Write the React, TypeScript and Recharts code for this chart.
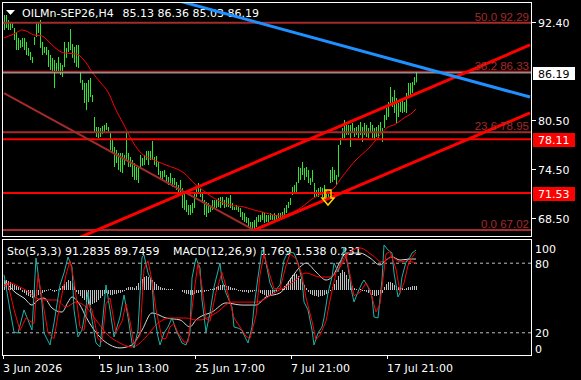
import React from 'react';
import { ComposedChart, Bar, Line, XAxis, YAxis, ReferenceLine, ReferenceDot } from 'recharts';

const W = 581;
const H = 380;
const SLOTS = 264;
const FONT = '"DejaVu Sans", sans-serif';
const FIB_FONT = '"Liberation Sans", Arial, sans-serif';
const GREEN = '#2ee62e';
const FIB_COLOR = '#a52a2a';
const RED = '#ff0000';
const SILVER = '#c0c0c0';

// ---- price bars (H4), high / low ----
const barHigh = [
  93.25, 93.25, 92.64, 92.4, 92.4, 91.67, 91.18, 90.45, 90.2, 90.45,
  90.45, 89.96, 89.23, 88.74, 88.13, 90.57, 92.28, 92.4, 92.64, 89.96,
  89.35, 89.35, 88.98, 88.37, 88.01, 87.76, 87.4, 88.13, 87.4, 87.15,
  89.96, 89.23, 89.96, 91.54, 89.71, 89.35, 89.59, 89.59, 86.3, 85.32,
  84.96, 84.96, 85.32, 85.57, 83.49, 80.81, 79.59, 79.59, 79.47, 79.71,
  79.84, 80.08, 79.59, 78.86, 78.01, 77.15, 76.79, 76.42, 76.42, 76.42,
  76.18, 78.98, 76.42, 75.93, 75.57, 75.2, 74.72, 74.72, 76.18, 75.81,
  76.18, 76.67, 76.67, 76.67, 77.89, 75.93, 76.06, 75.32, 74.23, 74.23,
  74.35, 73.74, 73.5, 73.98, 73.37, 73.37, 72.89, 72.52, 73.13, 72.15,
  71.54, 70.69, 70.08, 70.08, 70.32, 71.54, 72.28, 72.76, 72.15, 71.54,
  70.69, 70.45, 70.32, 69.84, 70.69, 70.69, 70.69, 70.93, 71.06, 71.06,
  70.69, 71.06, 70.93, 71.3, 70.32, 69.84, 70.08, 69.84, 69.71, 69.23,
  69.1, 68.62, 68.49, 68.01, 68.01, 68.25, 68.62, 68.86, 68.86, 69.23,
  69.1, 68.86, 68.86, 69.1, 68.86, 69.1, 68.86, 69.1, 69.1, 69.23,
  69.71, 70.08, 70.45, 70.93, 72.28, 72.52, 72.89, 74.72, 74.59, 75.32,
  74.59, 74.72, 74.35, 73.37, 74.35, 72.76, 71.91, 72.15, 72.28, 72.15,
  72.52, 71.91, 71.67, 74.35, 74.72, 74.35, 73.74, 77.4, 78.25, 79.47,
  80.45, 80.2, 79.84, 79.84, 80.08, 79.47, 79.59, 79.84, 80.2, 79.59,
  80.08, 79.84, 79.47, 80.2, 79.84, 79.47, 79.59, 79.84, 80.2, 79.47,
  81.06, 81.91, 82.64, 84.47, 83.25, 84.1, 83.13, 82.52, 82.88, 83.13,
  82.64, 83.74, 84.96, 84.96, 85.08, 85.69, 86.36,
];
const barLow = [
  91.42, 91.67, 91.42, 91.42, 91.67, 90.2, 88.98, 88.98, 89.23, 89.35,
  88.98, 88.37, 88.25, 87.76, 87.4, 89.59, 90.57, 91.06, 89.23, 88.37,
  88.62, 88.37, 86.91, 86.54, 86.3, 84.35, 86.3, 86.3, 85.93, 85.69,
  86.91, 88.01, 88.74, 88.98, 88.01, 87.4, 86.91, 86.79, 84.96, 84.1,
  82.52, 81.66, 82.64, 83.25, 82.64, 78.98, 78.37, 78.25, 78.37, 78.74,
  78.98, 79.23, 78.86, 76.79, 76.42, 74.72, 75.2, 74.35, 74.11, 73.98,
  74.96, 75.57, 74.72, 74.72, 73.5, 73.13, 73.13, 72.76, 74.72, 74.84,
  74.96, 75.57, 74.96, 75.57, 75.57, 74.96, 74.72, 73.74, 73.37, 73.13,
  73.5, 72.76, 72.52, 72.76, 72.28, 72.52, 71.91, 71.54, 71.67, 69.71,
  69.47, 69.23, 68.86, 68.86, 69.1, 69.71, 71.06, 71.67, 71.06, 70.32,
  68.86, 68.62, 69.1, 69.23, 69.47, 69.71, 69.71, 69.84, 69.71, 70.08,
  69.71, 69.84, 69.84, 69.71, 69.47, 69.47, 69.47, 69.23, 68.62, 68.25,
  68.01, 67.89, 67.4, 67.28, 67.1, 67.02, 67.4, 68.01, 68.01, 68.25,
  67.89, 68.01, 68.01, 68.25, 68.25, 68.25, 68.25, 68.49, 68.49, 68.62,
  68.86, 69.1, 69.71, 70.08, 71.3, 71.54, 71.67, 72.76, 73.13, 73.74,
  73.13, 73.5, 72.76, 72.52, 72.89, 71.06, 71.06, 71.06, 71.3, 71.06,
  71.06, 70.93, 70.93, 72.76, 72.89, 73.13, 72.52, 73.5, 77.4, 78.01,
  78.25, 78.62, 78.62, 77.15, 78.86, 78.37, 78.62, 78.25, 78.62, 77.76,
  78.62, 78.37, 78.25, 78.86, 78.25, 78.01, 78.37, 78.25, 78.86, 77.76,
  79.47, 80.45, 80.81, 82.52, 82.03, 81.3, 80.08, 80.81, 81.42, 81.3,
  81.42, 81.3, 83.25, 83.49, 83.74, 84.71, 85.03,
];

// ---- moving average (read at turning points) ----
const maIdx = [0, 6, 9, 11, 15, 19, 23, 27, 30, 36, 40, 44, 48, 52, 56, 60, 63, 68, 75, 81, 90, 96, 98, 104, 113, 120, 125, 131, 138, 142, 149, 154, 160, 165, 169, 176, 183, 188, 192, 195, 200, 204, 206];
const maVal = [90.45, 91.06, 91.42, 91.3, 90.81, 90.69, 89.84, 88.98, 88.62, 88.5, 87.76, 86.3, 85.08, 83.86, 81.66, 79.84, 78.37, 76.55, 75.57, 74.96, 73.98, 72.52, 72.15, 71.06, 70.08, 69.84, 69.47, 69.1, 68.74, 68.98, 69.84, 70.81, 71.54, 72.15, 73.5, 75.57, 77.15, 78.62, 79.59, 79.84, 80.69, 81.3, 81.79];

// ---- Stochastic %K / %D ----
const kIdx = [0, 3, 5, 7, 10, 12, 14, 16, 19, 20, 23, 25, 28, 30, 32, 34, 35, 37, 39, 41, 42, 44, 46, 48, 49, 51, 53, 55, 58, 60, 62, 64, 65, 67, 69, 70, 72, 74, 75, 77, 78, 80, 82, 84, 86, 89, 91, 93, 94, 96, 98, 99, 101, 103, 105, 108, 109, 111, 114, 115, 117, 119, 120, 122, 124, 125, 127, 129, 130, 133, 135, 138, 140, 142, 145, 147, 149, 150, 152, 154, 155, 157, 159, 160, 162, 164, 165, 167, 169, 170, 172, 174, 175, 177, 179, 180, 182, 184, 185, 187, 189, 190, 192, 194, 195, 197, 198, 199, 201, 203, 204, 206];
const kVal = [70, 39.7, 20.7, 19.8, 39.7, 31, 22.4, 84.5, 45.7, 19.8, 9.5, 28.4, 61.2, 71.6, 85.3, 76.7, 39.7, 16.4, 22.4, 42.2, 55.2, 31, 11.2, 7.8, 25, 61.2, 39.7, 16.4, 33.6, 52.6, 33.6, 11.2, 6.9, 22.4, 85.3, 87.1, 71.6, 63.8, 37.1, 16.4, 9.5, 19.8, 25, 32.8, 22.4, 11.2, 9.5, 19.8, 67.2, 84.5, 75.9, 48.3, 20.7, 37.1, 59.5, 80.2, 65.5, 54.3, 42.2, 25, 24.1, 22.4, 18.1, 11.2, 25, 42.2, 68.1, 91.4, 88.8, 62.9, 55.2, 61.2, 82.8, 89.7, 88.8, 80.2, 65.5, 46.6, 39.7, 22.4, 9.5, 19.8, 25, 32.8, 54.3, 68.1, 80.2, 72.4, 84.5, 94, 76.7, 54.3, 46.6, 55.2, 62.9, 65.5, 59.5, 50.9, 33.6, 32.8, 65.5, 95.7, 91.4, 88.8, 71.6, 50.9, 54.3, 68.1, 81, 85.3, 88.8, 91.28];
const dIdx = [0, 2, 5, 8, 11, 13, 15, 17, 20, 22, 25, 28, 31, 33, 35, 38, 40, 42, 44, 47, 49, 51, 53, 56, 59, 61, 63, 65, 68, 70, 72, 74, 76, 79, 81, 83, 85, 87, 90, 92, 95, 97, 99, 101, 103, 106, 109, 111, 115, 118, 121, 123, 126, 128, 130, 132, 135, 138, 141, 143, 146, 149, 151, 154, 156, 158, 161, 163, 166, 168, 171, 173, 175, 178, 181, 183, 186, 188, 191, 193, 196, 198, 200, 202, 204, 206];
const dVal = [60, 62, 40, 22, 33, 30, 28, 70, 40, 20, 15, 45, 70, 82, 65, 25, 22, 45, 40, 15, 12, 45, 50, 20, 30, 45, 30, 10, 18, 75, 82, 65, 40, 15, 15, 25, 28, 20, 12, 12, 55, 80, 60, 32, 30, 55, 72, 60, 33, 25, 17, 15, 35, 70, 88, 75, 58, 58, 78, 88, 84, 70, 50, 30, 14, 18, 30, 48, 72, 78, 88, 70, 52, 55, 63, 57, 38, 45, 88, 90, 75, 55, 63, 78, 85, 89.75];

// ---- MACD lines and histogram ----
const macdIdx = [0, 2, 6, 10, 14, 17, 20, 24, 29, 32, 34, 38, 41, 44, 48, 53, 58, 64, 69, 74, 81, 88, 93, 96, 98, 104, 111, 119, 126, 131, 138, 144, 148, 151, 156, 161, 164, 168, 171, 178, 183, 188, 191, 194, 198, 203, 206];
const macdVal = [0.57, 0.29, -0.17, -0.46, -0.86, -0.57, -0.46, -1.03, -1.26, -0.69, -0.4, -0.86, -1.54, -2.11, -2.69, -3.14, -3.31, -3.14, -2.29, -1.31, -1.6, -1.71, -2.11, -1.71, -1.54, -1.26, -0.74, -0.86, -0.86, -0.4, -0.17, 0.74, 1.31, 1.54, 1.03, 0.57, 0.74, 1.6, 2.11, 2.11, 1.83, 1.43, 1.71, 1.89, 1.71, 1.77, 1.769];
const sigIdx = [0, 3, 8, 13, 16, 21, 26, 31, 36, 41, 46, 51, 58, 64, 71, 76, 83, 91, 96, 98, 106, 114, 126, 136, 144, 151, 158, 163, 168, 173, 178, 184, 189, 194, 198, 201, 206];
const sigVal = [0.29, 0.4, 0.17, -0.17, -0.46, -0.57, -0.57, -0.97, -0.69, -0.97, -1.71, -2.46, -3.03, -3.26, -2.69, -2.0, -1.6, -1.6, -1.71, -1.71, -1.31, -0.69, -0.69, -0.11, 0.4, 0.97, 0.74, 0.74, 1.31, 2.17, 2.4, 2.0, 1.6, 1.89, 1.6, 1.66, 1.538];
const macdHist = [
  0.51, 0.57, 0.51, 0.46, 0.34, 0.29, 0.23, 0.17, 0.11,
  -0.11, -0.17, -0.29, -0.34, -0.4, -0.46, -0.4, -0.34, -0.29, -0.23, -0.17,
  -0.11, -0.06, 0.03, 0.06, -0.06, -0.11, -0.06, 0.03, 0.11,
  0.23, 0.34, 0.46, 0.57, 0.51, 0.4, 0.23,
  -0.11, -0.23, -0.34, -0.46, -0.57, -0.69, -0.8, -0.86, -0.8, -0.74, -0.69, -0.57, -0.46, -0.34, -0.23,
  -0.17, -0.23, -0.29, -0.29, -0.23, -0.23, -0.17, -0.17, -0.11, -0.06,
  0.11, 0.17, 0.17, 0.17, 0.11,
  0.23, 0.4, 0.51, 0.63, 0.74, 0.8, 0.74, 0.69, 0.57, 0.46, 0.34, 0.23,
  0.17, 0.11, 0.11, 0.06, 0.06, 0.06, 0.06,
  0, 0, 0, 0,
  -0.11, -0.17, -0.23, -0.23, -0.29, -0.29, -0.23, -0.17, -0.17, -0.11,
  -0.11, -0.11, -0.06, -0.06, 0.06, 0.06,
  0.11, 0.17, 0.23, 0.29, 0.29, 0.29, 0.23, 0.23, 0.17, 0.11, 0.11, 0.06,
  -0.06, -0.06, -0.11, -0.11, -0.11, -0.17, -0.11, -0.11, -0.06, -0.06,
  -0.11, -0.17, -0.23, -0.29, -0.34, -0.29, -0.29, -0.23, -0.17, -0.11, -0.06, 0.06, 0.11, 0.23,
  0.34, 0.51, 0.69, 0.86, 0.97, 0.91, 0.8, 0.63, 0.46, 0.29, 0.11,
  -0.11, -0.23, -0.29, -0.34, -0.34, -0.4, -0.34, -0.34, -0.29, -0.23, -0.17, -0.06,
  0.17, 0.34, 0.57, 0.8, 0.97, 1.14, 1.03, 0.86, 0.63, 0.4, 0.23,
  0.11, 0.06, -0.06, 0.06, -0.06, -0.06, -0.11,
  -0.17, -0.23, -0.29, -0.34, -0.34, -0.29, -0.23, -0.17,
  0.17, 0.34, 0.46, 0.46, 0.4, 0.29, 0.23, 0.17,
  0.11, 0.11, 0.06, 0.11, 0.17, 0.17, 0.23, 0.23, 0.231,
];

// ---- axis ticks / labels ----
const timeTickIdx = [0, 48, 96, 144, 192];
const timeTickLabels = ['3 Jun 2026', '15 Jun 13:00', '25 Jun 17:00', '7 Jul 21:00', '17 Jul 21:00'];
const priceTicks = [68.5, 74.5, 80.5, 92.4];
const bidPrice = 86.19;
const alertPrices = [78.11, 71.53];
const fibLevels = [50.0, 38.2, 23.6, 0.0];
const fibPrices = [92.29, 86.33, 78.95, 67.02];
const stoTicks = [0, 20, 80, 100];
const stoLevels = [80, 20];
const headerSymbol = 'OILMn-SEP26,H4';
const headerOHLC = ['85.13', '86.36', '85.03', '86.19'];
const stoHeader = 'Sto(5,3,3) 91.2835 89.7459';
const macdHeader = 'MACD(12,26,9) 1.769 1.538 0.231';

// ---- drawn objects: trend lines (bar index, price) ----
const trendFrom = [[0, 83.73], [0, 62.18], [125, 67.02], [0, 100.81]];
const trendTo = [[125, 67.02], [263, 89.59], [263, 81.3], [263, 83.24]];
const trendColor = [FIB_COLOR, RED, RED, '#1e90ff'];
const trendWidth = [2, 3, 3, 3];
const arrowAt = [162, 70.93];

function buildRows() {
  const rows: any[] = [];
  for (let i = 0; i < SLOTS; i++) {
    rows.push({
      i,
      hl: i < barHigh.length ? [barLow[i], barHigh[i]] : null,
      hist: i < macdHist.length ? macdHist[i] : null,
      ma: null, k: null, d: null, macd: null, sig: null,
    });
  }
  const put = (key: string, idx: number[], vals: number[]) =>
    idx.forEach((ix, j) => { rows[ix][key] = vals[j]; });
  put('ma', maIdx, maVal);
  put('k', kIdx, kVal);
  put('d', dIdx, dVal);
  put('macd', macdIdx, macdVal);
  put('sig', sigIdx, sigVal);
  return rows;
}
const rows = buildRows();

const VBar = (fill: string) => (p: any) => {
  const { x, y, width, height } = p;
  if (x == null || y == null || !height) return null;
  const px = Math.round(x + width / 2 - 0.5);
  const top = Math.min(y, y + height);
  const h = Math.max(Math.abs(height), 1);
  return <rect x={px} y={top} width={1} height={h} fill={fill} />;
};
const PriceBarShape = VBar(GREEN);
const HistShape = VBar(SILVER);

const PriceTick = (p: any) => {
  const { x, y, payload } = p;
  const v = payload.value;
  const yy = Math.round(y);
  if (Math.abs(v - bidPrice) < 1e-6) {
    return (
      <g>
        <rect x={x + 2} y={yy - 6} width={42} height={13} fill="#ffffff" />
        <text x={x + 7} y={yy + 4.5} fill="#000000" fontSize={11} fontFamily={FONT}>{v.toFixed(2)}</text>
      </g>
    );
  }
  if (alertPrices.some((a) => Math.abs(a - v) < 1e-6)) {
    return (
      <g>
        <rect x={x + 2} y={yy - 6} width={42} height={14} fill={RED} />
        <text x={x + 7} y={yy + 5} fill="#ffffff" fontSize={11} fontFamily={FONT}>{v.toFixed(2)}</text>
      </g>
    );
  }
  return (
    <g>
      <line x1={x + 1} x2={x + 5} y1={yy + 0.5} y2={yy + 0.5} stroke="#ffffff" strokeWidth={1} />
      <text x={x + 7} y={yy + 4.5} fill="#ffffff" fontSize={11} fontFamily={FONT}>{v.toFixed(2)}</text>
    </g>
  );
};

const StoTick = (p: any) => {
  const { x, y, payload } = p;
  const v = payload.value;
  const shift = v === 100 ? 8 : v === 0 ? -8 : 0;
  return (
    <text x={x + 4} y={y + shift + 4.5} fill="#ffffff" fontSize={11} fontFamily={FONT}>{String(v)}</text>
  );
};

const TimeTick = (p: any) => {
  const { x, y, payload } = p;
  const j = timeTickIdx.indexOf(payload.value);
  const lx = Math.round(x) - 0.5;
  return (
    <g>
      <line x1={lx} x2={lx} y1={y} y2={y + 3} stroke="#ffffff" strokeWidth={1} />
      <text x={x - 1} y={y + 15.5} fill="#ffffff" fontSize={11} fontFamily={FONT}>{j >= 0 ? timeTickLabels[j] : ''}</text>
    </g>
  );
};

const ArrowShape = (p: any) => {
  const { cx, cy } = p;
  if (cx == null || cy == null) return null;
  const x = Math.round(cx);
  const y = Math.round(cy);
  return (
    <path
      d={`M${x - 3},${y - 8} L${x + 3},${y - 8} L${x + 3},${y} L${x + 6},${y} L${x},${y + 7} L${x - 6},${y} L${x - 3},${y} Z`}
      fill="none"
      stroke="#ffd700"
      strokeWidth={1.5}
    />
  );
};

export default function App() {
  return (
    <div style={{ position: 'fixed', left: 0, top: 0, width: W, height: H, background: '#000', overflow: 'hidden' }}>
      <svg width={W} height={H} style={{ position: 'absolute', left: 0, top: 0 }}>
        <rect x={2.5} y={2.5} width={529} height={234} fill="none" stroke="#ffffff" strokeWidth={1} />
        <rect x={2.5} y={239.5} width={529} height={116} fill="none" stroke="#ffffff" strokeWidth={1} />
        <polygon points="6,10 15,10 10.5,15" fill="#ffffff" />
        <text x={22} y={16.5} fill="#ffffff" fontSize={11} fontFamily={FONT}>{headerSymbol}</text>
        <text x={122.5} y={16.5} fill="#ffffff" fontSize={11} fontFamily={FONT}>{headerOHLC.join(' ')}</text>
        <text x={7} y={254.5} fill="#ffffff" fontSize={11} fontFamily={FONT}>{stoHeader}</text>
        <text x={173} y={254.5} fill="#ffffff" fontSize={11} fontFamily={FONT}>{macdHeader}</text>
      </svg>

      <div style={{ position: 'absolute', left: 0, top: 0 }}>
        <ComposedChart width={W} height={237} data={rows} margin={{ top: 3, right: 0, bottom: 1, left: 3 }} barCategoryGap={0} barGap={0}>
          <XAxis dataKey="i" type="category" hide />
          <YAxis
            orientation="right"
            width={50}
            domain={[66.3, 94.71]}
            allowDataOverflow
            ticks={[...priceTicks, bidPrice, ...alertPrices]}
            interval={0}
            axisLine={false}
            tickLine={false}
            tickSize={0}
            tickMargin={0}
            tick={(p: any) => <PriceTick {...p} />}
          />
          <Bar dataKey="hl" barSize={1} shape={PriceBarShape} isAnimationActive={false} />
          <Line dataKey="ma" type="monotone" connectNulls stroke={RED} strokeWidth={1} dot={false} activeDot={false} isAnimationActive={false} />
          {fibPrices.map((fp, j) => (
            <ReferenceLine
              key={'fib' + j}
              y={fp}
              stroke={FIB_COLOR}
              strokeWidth={2}
              label={{ value: `${fibLevels[j].toFixed(1)} ${fp.toFixed(2)}`, position: 'insideBottomRight', offset: 2, fill: FIB_COLOR, fontSize: 11.5, fontFamily: FIB_FONT }}
            />
          ))}
          <ReferenceLine y={bidPrice} stroke={SILVER} strokeWidth={1} />
          {alertPrices.map((a, j) => (
            <ReferenceLine key={'al' + j} y={a} stroke={RED} strokeWidth={2} />
          ))}
          {trendFrom.map((f, j) => (
            <ReferenceLine
              key={'tr' + j}
              segment={[{ x: f[0], y: f[1] }, { x: trendTo[j][0], y: trendTo[j][1] }]}
              stroke={trendColor[j]}
              strokeWidth={trendWidth[j]}
              ifOverflow="hidden"
            />
          ))}
          <ReferenceDot x={arrowAt[0]} y={arrowAt[1]} shape={ArrowShape} ifOverflow="visible" />
        </ComposedChart>
      </div>

      <div style={{ position: 'absolute', left: 0, top: 0 }}>
        <ComposedChart width={W} height={H} data={rows} margin={{ top: 240, right: 0, bottom: 0, left: 3 }} barCategoryGap={0} barGap={0}>
          <XAxis
            dataKey="i"
            type="category"
            height={24}
            ticks={timeTickIdx}
            interval={0}
            axisLine={false}
            tickLine={false}
            tickSize={0}
            tickMargin={0}
            tick={(p: any) => <TimeTick {...p} />}
          />
          <YAxis
            yAxisId="s"
            orientation="right"
            width={50}
            domain={[0, 100]}
            ticks={stoTicks}
            interval={0}
            axisLine={false}
            tickLine={false}
            tickSize={0}
            tickMargin={0}
            tick={(p: any) => <StoTick {...p} />}
          />
          <YAxis yAxisId="m" hide domain={[-3.771, 2.857]} allowDataOverflow />
          {stoLevels.map((lv) => (
            <ReferenceLine key={'lv' + lv} yAxisId="s" y={lv} stroke={SILVER} strokeWidth={1} strokeDasharray="3 3" />
          ))}
          <Bar yAxisId="m" dataKey="hist" barSize={1} shape={HistShape} isAnimationActive={false} />
          <Line yAxisId="m" dataKey="macd" type="monotone" connectNulls stroke="#d8d8d8" strokeWidth={1} dot={false} activeDot={false} isAnimationActive={false} />
          <Line yAxisId="m" dataKey="sig" type="monotone" connectNulls stroke={RED} strokeWidth={1} dot={false} activeDot={false} isAnimationActive={false} />
          <Line yAxisId="s" dataKey="k" type="linear" connectNulls stroke="#20b2aa" strokeWidth={1} dot={false} activeDot={false} isAnimationActive={false} />
          <Line yAxisId="s" dataKey="d" type="linear" connectNulls stroke={RED} strokeWidth={1} dot={false} activeDot={false} isAnimationActive={false} />
        </ComposedChart>
      </div>
    </div>
  );
}
